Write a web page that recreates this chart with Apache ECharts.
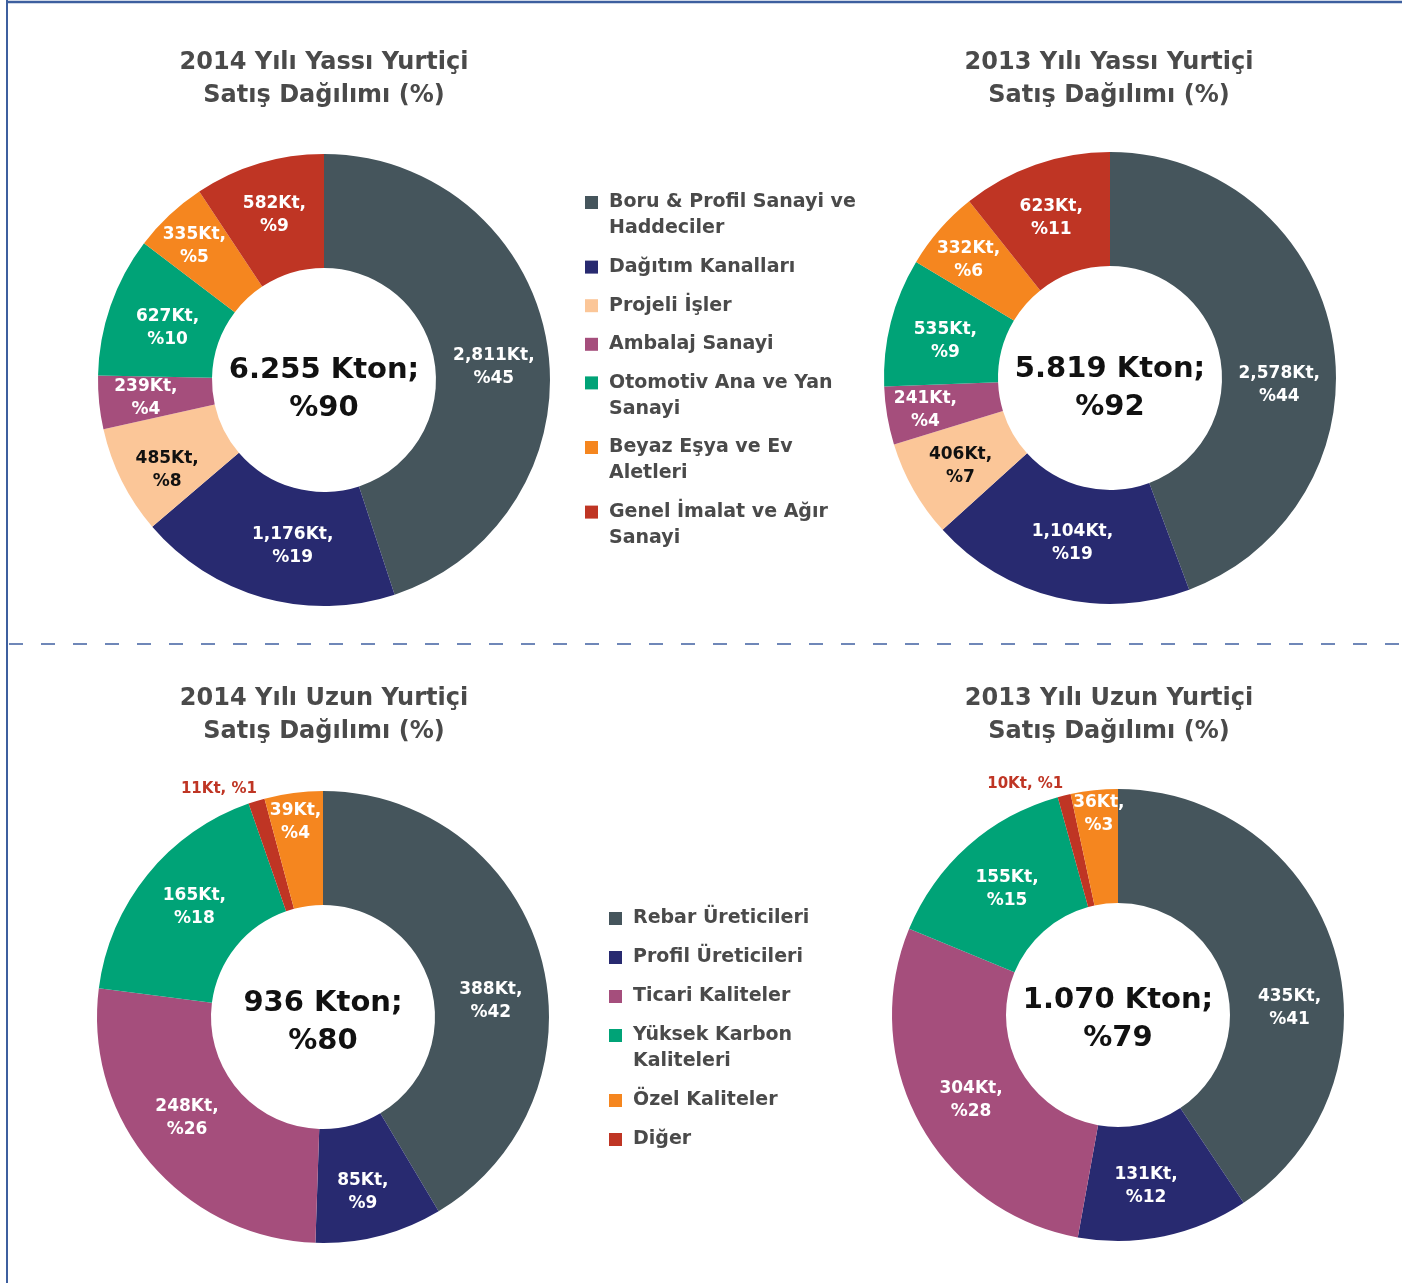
<!DOCTYPE html>
<html>
<head>
<meta charset="utf-8">
<script src="https://cdn.jsdelivr.net/npm/echarts@6/dist/echarts.min.js"></script>
<style>
  html, body { margin: 0; padding: 0; background: #fff; }
  #chart { width: 1402px; height: 1283px; }
</style>
</head>
<body>
<div id="chart"></div>
<script>
// yassı (flat) categories, in pie order
const yassiCategories = [
  "Boru & Profil Sanayi ve Haddeciler",
  "Dağıtım Kanalları",
  "Projeli İşler",
  "Ambalaj Sanayi",
  "Otomotiv Ana ve Yan Sanayi",
  "Beyaz Eşya ve Ev Aletleri",
  "Genel İmalat ve Ağır Sanayi",
];
const yassi2014Values = [2811, 1176, 485, 239, 627, 335, 582];
const yassi2014Pct = [45, 19, 8, 4, 10, 5, 9];
const yassi2013Values = [2578, 1104, 406, 241, 535, 332, 623];
const yassi2013Pct = [44, 19, 7, 4, 9, 6, 11];

// uzun (long) categories, in pie order (Diğer comes before Özel in the ring)
const uzunCategories = [
  "Rebar Üreticileri",
  "Profil Üreticileri",
  "Ticari Kaliteler",
  "Yüksek Karbon Kaliteleri",
  "Diğer",
  "Özel Kaliteler",
];
const uzunLegendOrder = [
  "Rebar Üreticileri",
  "Profil Üreticileri",
  "Ticari Kaliteler",
  "Yüksek Karbon Kaliteleri",
  "Özel Kaliteler",
  "Diğer",
];
const uzun2014Values = [388, 85, 248, 165, 11, 39];
const uzun2014Pct = [42, 9, 26, 18, 1, 4];
const uzun2013Values = [435, 131, 304, 155, 10, 36];
const uzun2013Pct = [41, 12, 28, 15, 1, 3];

const totals = ["6.255 Kton;\n%90", "5.819 Kton;\n%92", "936 Kton;\n%80", "1.070 Kton;\n%79"];
const titles = [
  "2014 Yılı Yassı Yurtiçi\nSatış Dağılımı (%)",
  "2013 Yılı Yassı Yurtiçi\nSatış Dağılımı (%)",
  "2014 Yılı Uzun Yurtiçi\nSatış Dağılımı (%)",
  "2013 Yılı Uzun Yurtiçi\nSatış Dağılımı (%)",
];

const FONT = "'DejaVu Sans', sans-serif";
const C = {
  slate: "#45555c",
  navy: "#282a70",
  peach: "#fbc698",
  magenta: "#a54e7c",
  green: "#00a377",
  orange: "#f5861f",
  red: "#bf3524",
};
const colorMap = {
  "Boru & Profil Sanayi ve Haddeciler": C.slate,
  "Dağıtım Kanalları": C.navy,
  "Projeli İşler": C.peach,
  "Ambalaj Sanayi": C.magenta,
  "Otomotiv Ana ve Yan Sanayi": C.green,
  "Beyaz Eşya ve Ev Aletleri": C.orange,
  "Genel İmalat ve Ağır Sanayi": C.red,
  "Rebar Üreticileri": C.slate,
  "Profil Üreticileri": C.navy,
  "Ticari Kaliteler": C.magenta,
  "Yüksek Karbon Kaliteleri": C.green,
  "Özel Kaliteler": C.orange,
  "Diğer": C.red,
};
// legend wrapping
const legendText = {
  "Boru & Profil Sanayi ve Haddeciler": "Boru & Profil Sanayi ve\nHaddeciler",
  "Otomotiv Ana ve Yan Sanayi": "Otomotiv Ana ve Yan\nSanayi",
  "Beyaz Eşya ve Ev Aletleri": "Beyaz Eşya ve Ev\nAletleri",
  "Genel İmalat ve Ağır Sanayi": "Genel İmalat ve Ağır\nSanayi",
  "Yüksek Karbon Kaliteleri": "Yüksek Karbon\nKaliteleri",
};

const centers = [[324, 380], [1110, 378], [323, 1017], [1118, 1015]];
// label nudges away from the mid-ring spot (the original has hand-placed labels)
const labelShift = [
  [[0, 14], [15, 0], [-3, 13], [-7, 1], [6, 5], [-12, -8], [0, 0]],
  [[0, 38], [3, -2], [0, 3], [-15, 3], [2, 6], [-12, -5], [-2, 2]],
  [[2, 30], [-3, 8], [-5, -10], [5, -2], [4, 0], [-5, -24]],
  [[7, 43], [-7, 3], [4, 3], [3, 3], [2, 0], [-1, -30]],
];

function splitNum(num) {
  return num.toString().replace(/(?=(\B)(\d{3})+$)/g, ",");
}

function pieSeries(idx, cats, values, pcts) {
  return {
    type: "pie",
    center: centers[idx],
    radius: [112, 226],
    startAngle: 90,
    clockwise: true,
    avoidLabelOverlap: false,
    emphasis: { disabled: true },
    label: {
      show: true,
      position: "inside",
      color: "#fff",
      fontFamily: FONT,
      fontWeight: "bold",
      fontSize: 17,
      lineHeight: 23,
      formatter: (p) => splitNum(p.value) + "Kt,\n%" + pcts[p.dataIndex],
    },
    labelLine: { show: false },
    labelLayout: (params) => {
      const s = labelShift[idx][params.dataIndex];
      if (!s) return {};
      return { dx: s[0], dy: s[1] };
    },
    data: cats.map((name, i) => {
      const item = { name: name, value: values[i], itemStyle: { color: colorMap[name] } };
      if (name === "Projeli İşler") item.label = { color: "#111" };
      if (name === "Diğer") {
        item.label = {
          position: "outside",
          color: C.red,
          fontSize: 15,
          distanceToLabelLine: 0,
          formatter: (p) => splitNum(p.value) + "Kt, %" + pcts[p.dataIndex],
        };
        item.labelLine = { show: false, length: 12, length2: 0 };
      }
      return item;
    }),
  };
}

function legendRich(names) {
  const rich = {
    t: { fontFamily: FONT, fontWeight: "bold", fontSize: 19, lineHeight: 26, color: "#4a4a4a", padding: [0, 0, 0, 11], verticalAlign: "middle" },
    sp: { width: 13, lineHeight: 26 },
  };
  names.forEach((n, i) => {
    rich["c" + i] = { width: 13, height: 13, backgroundColor: colorMap[n], verticalAlign: "middle" };
  });
  return rich;
}

function legendFormatter(names) {
  return (name) => {
    const i = names.indexOf(name);
    const lines = (legendText[name] || name).split("\n");
    let s = "{c" + i + "|}{t|" + lines[0] + "}";
    if (lines[1]) s += "\n{sp|}{t|" + lines[1] + "}";
    return s;
  };
}

const chart = echarts.init(document.getElementById("chart"));

const graphics = [
  // frame
  { type: "line", shape: { x1: 7, y1: 0, x2: 7, y2: 1283 }, style: { stroke: "#3d5f9f", lineWidth: 2 } },
  { type: "line", shape: { x1: 7, y1: 2, x2: 1402, y2: 2 }, style: { stroke: "#3d5f9f", lineWidth: 2.5 } },
  // separator
  { type: "line", shape: { x1: 9, y1: 644, x2: 1402, y2: 644 }, style: { stroke: "#6f87b8", lineWidth: 2, lineDash: [14, 18] } },
];
const titlePos = [[324, 79], [1109, 79], [324, 715], [1109, 715]];
titles.forEach((t, i) => {
  graphics.push({
    type: "text",
    x: titlePos[i][0],
    y: titlePos[i][1],
    style: {
      text: t, fill: "#4a4a4a", font: "bold 24px " + FONT, lineHeight: 33,
      align: "center", verticalAlign: "middle", textAlign: "center", textVerticalAlign: "middle",
    },
  });
});
const totalOffset = [9, 10, 5, 4];
totals.forEach((t, i) => {
  graphics.push({
    type: "text",
    x: centers[i][0],
    y: centers[i][1] + totalOffset[i],
    style: {
      text: t, fill: "#111", font: "bold 29px " + FONT, lineHeight: 38,
      align: "center", verticalAlign: "middle", textAlign: "center", textVerticalAlign: "middle",
    },
  });
});

const option = {
  backgroundColor: "#fff",
  animation: false,
  legend: [
    {
      data: yassiCategories,
      orient: "vertical",
      left: 580,
      top: 193,
      padding: 0,
      itemGap: 19.6,
      itemWidth: 0,
      itemHeight: 0,
      icon: "none",
      selectedMode: false,
      formatter: legendFormatter(yassiCategories),
      textStyle: { rich: legendRich(yassiCategories) },
    },
    {
      data: uzunLegendOrder,
      orient: "vertical",
      left: 604,
      top: 909,
      padding: 0,
      itemGap: 20,
      itemWidth: 0,
      itemHeight: 0,
      icon: "none",
      selectedMode: false,
      formatter: legendFormatter(uzunLegendOrder),
      textStyle: { rich: legendRich(uzunLegendOrder) },
    },
  ],
  graphic: graphics,
  series: [
    pieSeries(0, yassiCategories, yassi2014Values, yassi2014Pct),
    pieSeries(1, yassiCategories, yassi2013Values, yassi2013Pct),
    pieSeries(2, uzunCategories, uzun2014Values, uzun2014Pct),
    pieSeries(3, uzunCategories, uzun2013Values, uzun2013Pct),
  ],
};
chart.setOption(option);
</script>
</body>
</html>
